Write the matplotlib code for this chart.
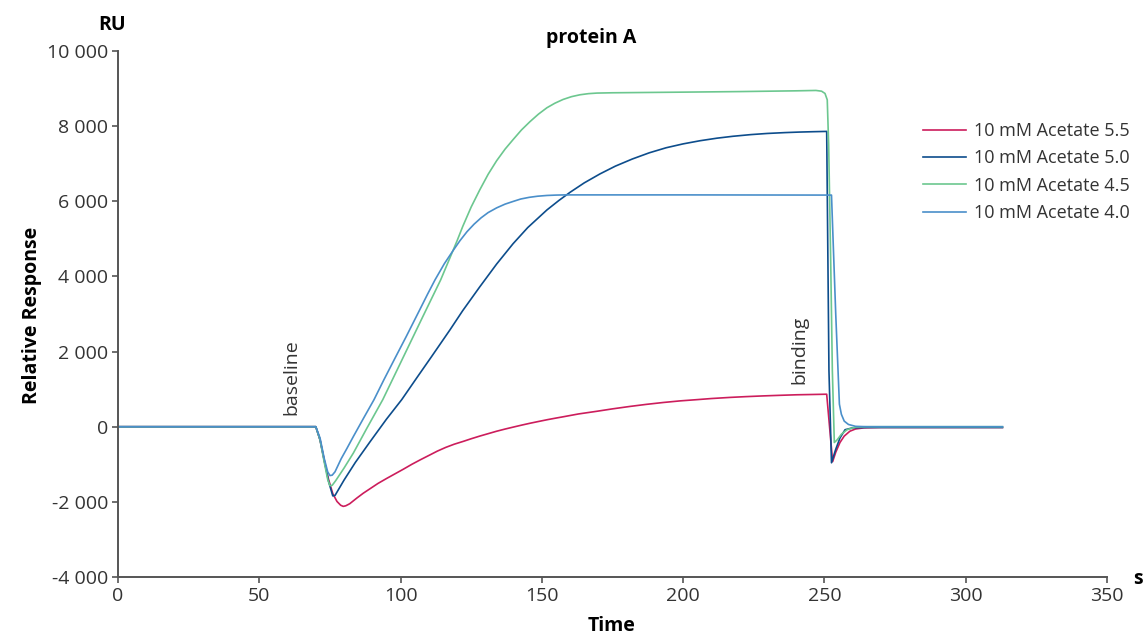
import matplotlib
matplotlib.use('Agg')
import matplotlib.pyplot as plt
from matplotlib.ticker import FuncFormatter, MultipleLocator

plt.rcParams['font.family'] = ['Open Sans', 'DejaVu Sans']

# sensorgram values (time in s, response in RU)
t_55 = [0, 70, 71.5, 73, 74.5, 76, 77.5, 78.8, 79.7, 80.6, 82, 84.5, 86.8, 89, 92,
        95, 98.6, 101, 104, 107, 110.4, 113, 116, 119, 122.2, 125, 128, 131, 134,
        137, 140, 143, 145.8, 149, 152, 155, 157.6, 163, 169.4, 175, 181.2, 187, 193,
        199, 204.8, 210, 216.6, 222, 228.3, 234, 240.2, 246, 250.8, 252.9, 254,
        255.5, 257, 259, 261, 264, 270, 290, 313]
ru_55 = [0, 0, -350, -900, -1400, -1780, -1990, -2090, -2120, -2105, -2050, -1900,
         -1770, -1660, -1510, -1380, -1230, -1130, -1000, -880, -750, -650, -550,
         -465, -390, -320, -250, -185, -120, -62, -8, 45, 92, 142, 188, 230, 265,
         340, 410, 475, 540, 595, 645, 688, 720, 750, 780, 800, 820, 835, 850, 858,
         865, -930, -680, -420, -250, -120, -60, -30, -20, -20, -20]

t_50 = [0, 70, 71.5, 73, 74.5, 76, 76.8, 77.5, 80, 84, 89.2, 95, 100.4, 106, 111,
        117.5, 122, 128, 134, 139.8, 145, 151.8, 156, 160, 165, 170.6, 176, 182, 188,
        194, 200, 206, 212, 217.6, 224, 229.7, 236, 241, 246, 250.8, 251.6, 252.5,
        254, 255.5, 257.3, 260, 265, 290, 313]
ru_50 = [0, 0, -350, -900, -1450, -1840, -1830, -1740, -1420, -950, -400, 200, 720,
         1330, 1870, 2580, 3090, 3720, 4330, 4870, 5300, 5770, 6020, 6240, 6490,
         6730, 6935, 7125, 7290, 7425, 7528, 7612, 7680, 7730, 7775, 7805, 7828,
         7842, 7852, 7860, 1500, -960, -600, -300, -80, -30, -20, -20, -20]

t_45 = [0, 70, 71.5, 73, 74.2, 75, 75.8, 77, 80, 83.3, 88, 93.7, 98, 103, 108,
        114.2, 117.5, 120, 122, 125, 128, 131, 134, 137, 139.8, 142.8, 145.8, 148.8,
        151.8, 154.6, 157.5, 160.5, 163.5, 166.5, 169.5, 175, 200, 220, 240, 247,
        249, 250.2, 251, 251.5, 252.2, 252.8, 253.5, 254.5, 256, 258, 261, 265,
        290, 313]
ru_45 = [0, 0, -350, -950, -1400, -1570, -1560, -1440, -1100, -700, -50, 720, 1390,
         2170, 2950, 3910, 4500, 4950, 5330, 5850, 6300, 6720, 7080, 7390, 7640,
         7900, 8120, 8320, 8490, 8610, 8710, 8785, 8835, 8865, 8880, 8888, 8905,
         8920, 8940, 8950, 8930, 8870, 8700, 7500, 4500, 1500, -420, -350, -200,
         -80, -10, 0, 0, 0]

t_40 = [0, 70, 71.5, 73, 74.2, 75, 75.8, 76.8, 79, 81, 83.3, 87, 90.6, 94.1, 98,
        102, 106.9, 109.5, 112.2, 115.5, 118.6, 121, 123.5, 126, 128.5, 131, 134,
        137, 139.8, 142.5, 145.5, 148.5, 151.8, 155, 158, 200, 252.5, 254, 255.3,
        256, 257, 258.5, 261, 265, 313]
ru_40 = [0, 0, -300, -850, -1200, -1300, -1290, -1200, -850, -580, -260, 240, 720,
         1250, 1820, 2400, 3130, 3520, 3910, 4340, 4690, 4950, 5190, 5390, 5560,
         5700, 5825, 5925, 5995, 6060, 6105, 6135, 6155, 6165, 6170, 6170, 6165,
         3000, 600, 330, 150, 60, 10, 0, 0]

labels = ['10 mM Acetate 5.5', '10 mM Acetate 5.0', '10 mM Acetate 4.5', '10 mM Acetate 4.0']
colors = ['#cc1d5c', '#0d4d8c', '#6cc78f', '#4a8fca']

W, H = 1145, 634
fig = plt.figure(figsize=(W / 100, H / 100), dpi=100)
ax = fig.add_axes([118 / W, 1 - 577 / H, (1107 - 118) / W, (577 - 51) / H])

for t, ru, lab, c in zip([t_55, t_50, t_45, t_40], [ru_55, ru_50, ru_45, ru_40], labels, colors):
    ax.plot(t, ru, color=c, lw=1.2, label=lab)

ax.set_xlim(0, 350)
ax.set_ylim(-4000, 10000)
ax.xaxis.set_major_locator(MultipleLocator(50))
ax.yaxis.set_major_locator(MultipleLocator(2000))
ax.yaxis.set_major_formatter(FuncFormatter(lambda v, p: f'{int(v):,}'.replace(',', ' ')))

for side in ['top', 'right']:
    ax.spines[side].set_visible(False)
for side in ['left', 'bottom']:
    ax.spines[side].set_color('#555555')
    ax.spines[side].set_linewidth(1.4)
ax.tick_params(direction='out', length=4, width=1.2, color='#555555',
               labelsize=14, labelcolor='#333333', pad=3)

ax.text(61.5, 320, 'baseline', rotation=90, fontsize=14, color='#333333',
        ha='center', va='bottom')
ax.text(241, 1150, 'binding', rotation=90, fontsize=14, color='#333333',
        ha='center', va='bottom')

fig.text(112 / W, 1 - 25 / H, 'RU', fontsize=14, fontweight='bold', ha='center', va='center')
fig.text(1138 / W, 1 - 579 / H, 's', fontsize=14, fontweight='bold', ha='center', va='center')
fig.text(612 / W, 1 - 626 / H, 'Time', fontsize=14, fontweight='bold', ha='center', va='center')
fig.text(32 / W, 1 - 315 / H, 'Relative Response', fontsize=14, fontweight='bold',
         rotation=90, ha='center', va='center')
fig.text(591 / W, 1 - 38 / H, 'protein A', fontsize=14, fontweight='bold', ha='center', va='center')

fig.legend(loc='upper left', bbox_to_anchor=(923 / W, 1 - 122 / H), frameon=False,
           fontsize=13, handlelength=2.4, handletextpad=0.4, labelspacing=0.52,
           borderpad=0, borderaxespad=0, labelcolor='#333333')

fig.savefig('out.png', dpi=100)
